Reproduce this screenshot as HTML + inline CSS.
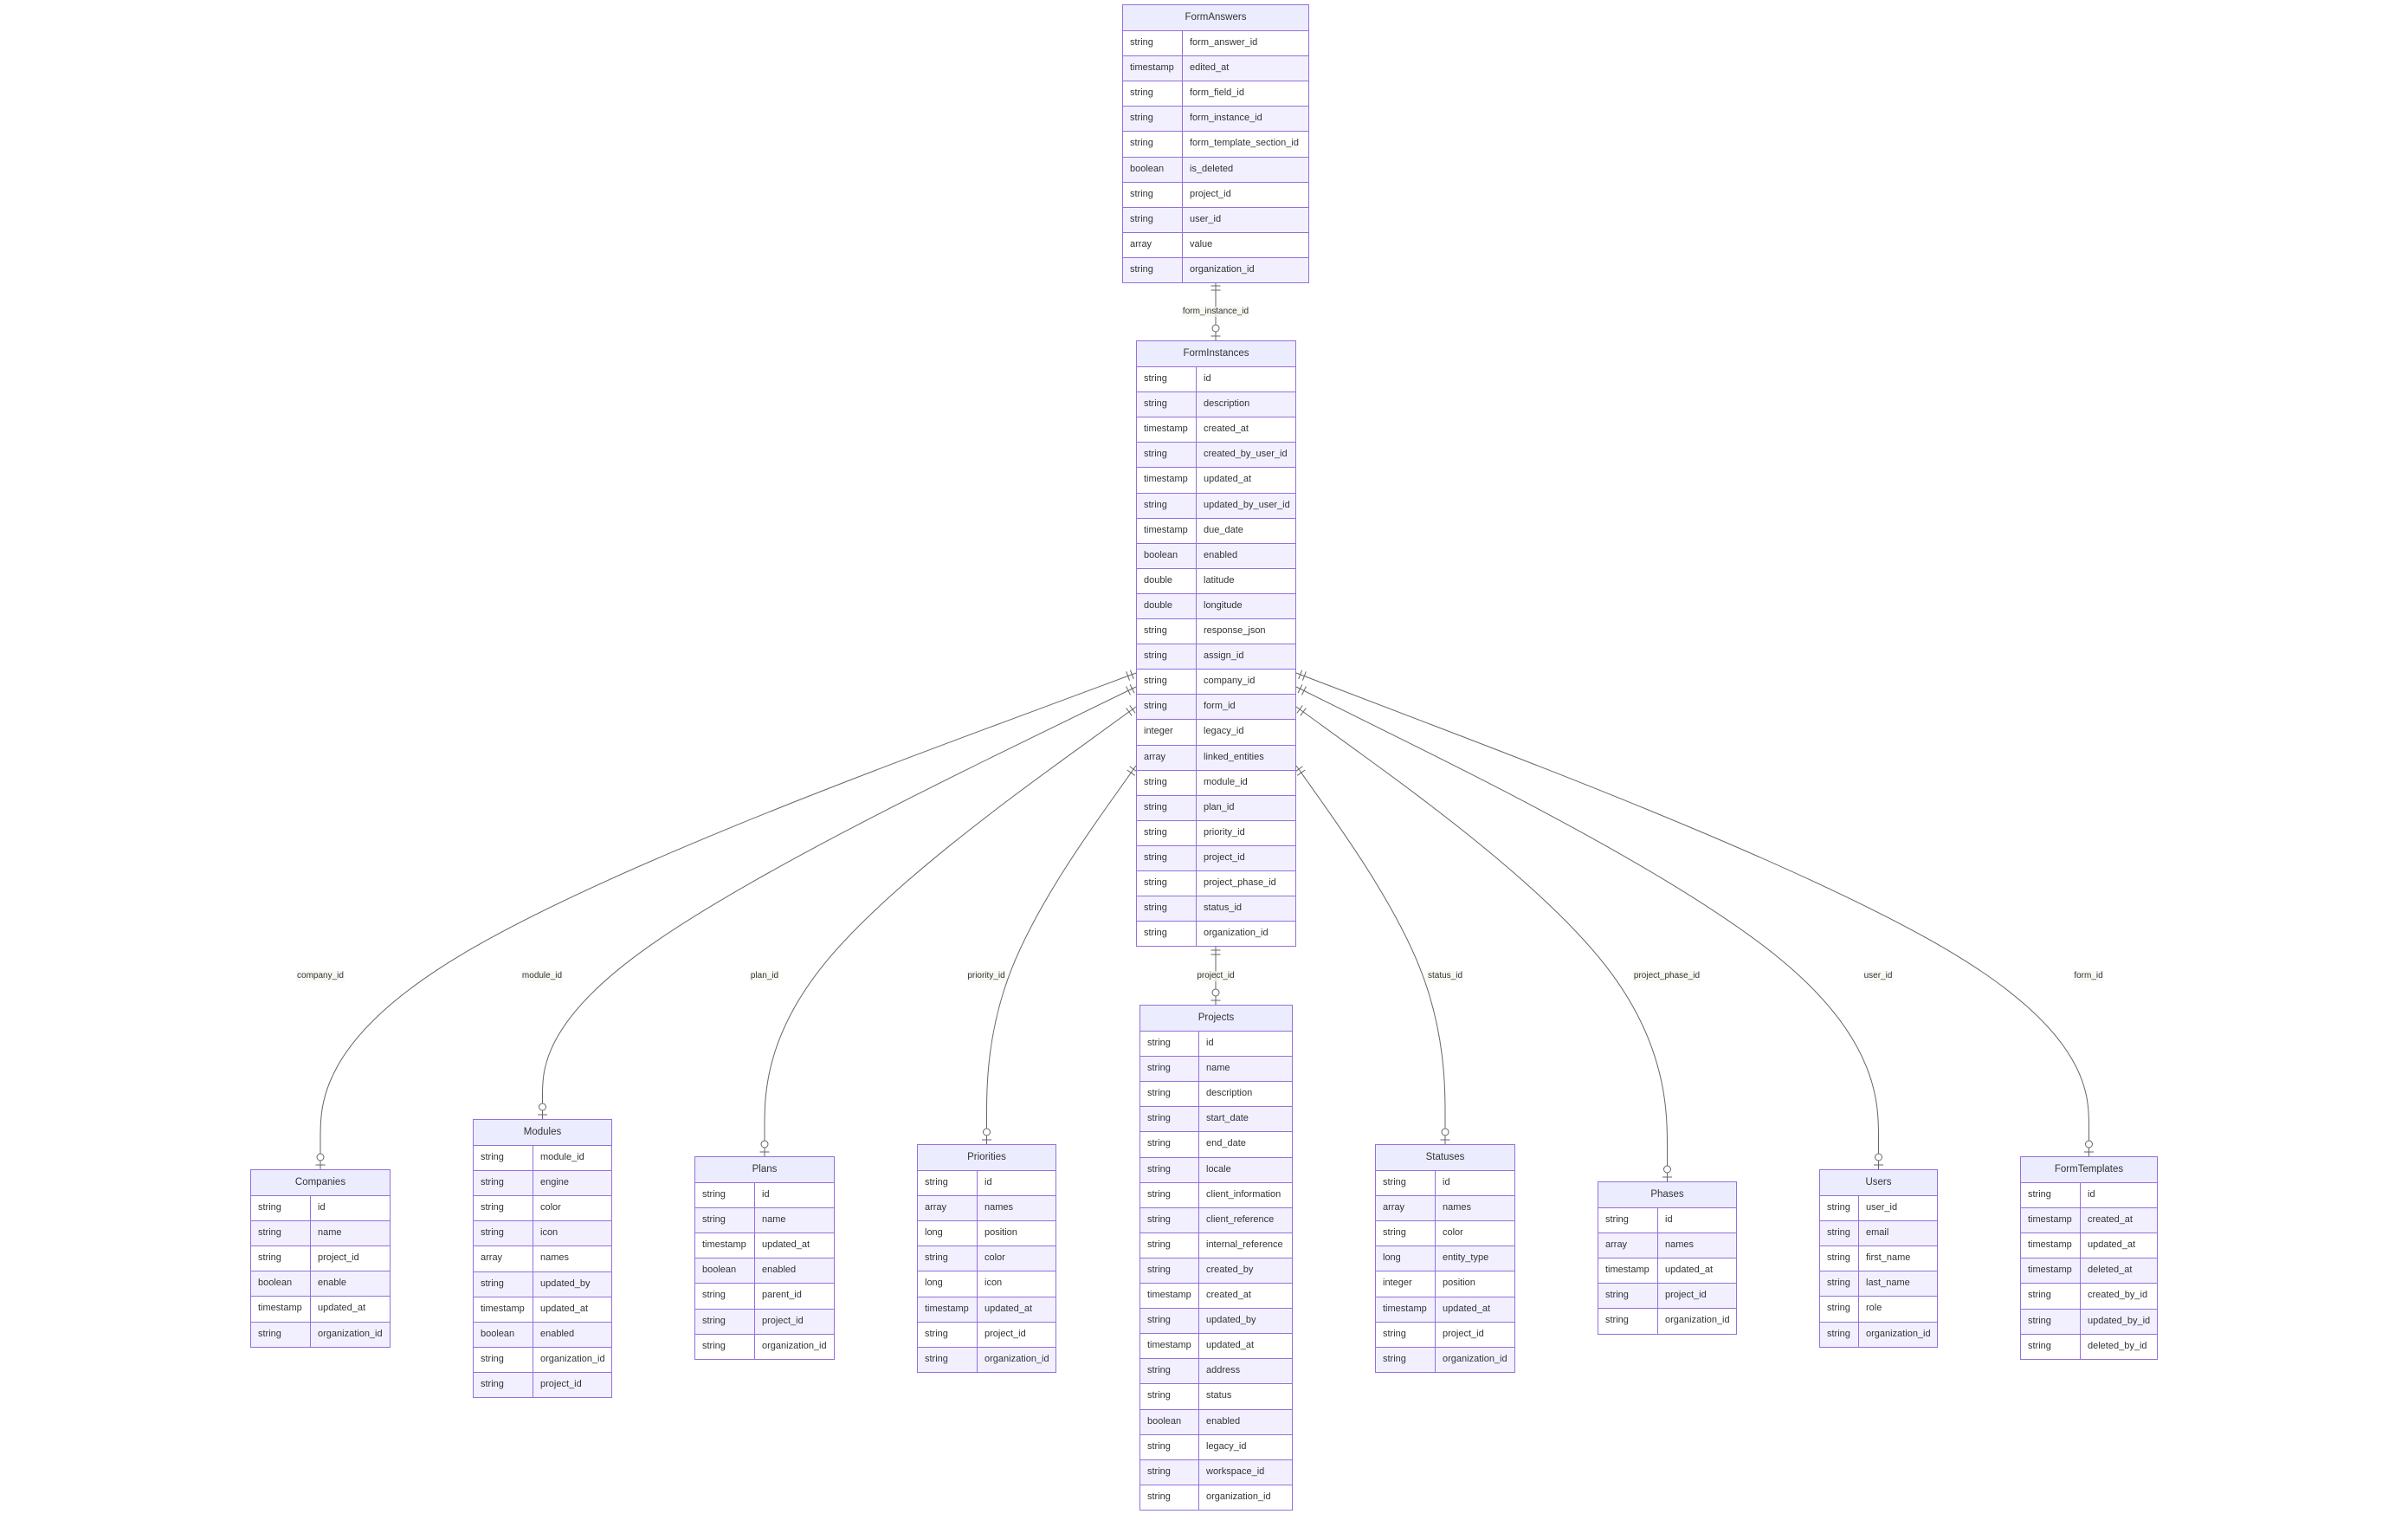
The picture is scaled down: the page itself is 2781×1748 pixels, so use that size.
<!DOCTYPE html>
<html><head><meta charset="utf-8"><style>
html,body{margin:0;padding:0;background:#fff;width:2781px;height:1748px;overflow:hidden;position:relative}
svg{position:absolute;left:0;top:0}
.t{position:absolute;border:1.5px solid #9370db;box-sizing:border-box;font:11px "Liberation Sans",sans-serif;color:#333;background:#fff}
.h{height:29.1px;line-height:28px;text-align:center;background:#ececff;box-sizing:border-box;font-size:11.5px}
.r{display:flex;height:29.1px;border-top:1.5px solid #9370db;box-sizing:border-box;line-height:27px;white-space:nowrap}
.r:nth-child(odd){background:#f2f0ff}
.r span:first-child{width:var(--c);flex:none;border-right:1.5px solid #9370db;padding-left:8px;box-sizing:border-box}
.r span:last-child{padding-left:8px}
.lb{position:absolute;font:10px "Liberation Sans",sans-serif;color:#333;background:rgba(244,247,238,0.7);transform:translate(-50%,-50%);padding:0 1px;line-height:12px}
</style></head><body>
<svg width="2781" height="1748" fill="none" stroke="#666" stroke-width="1">
<path d="M1404,325V393M1404,1092V1160"/>
<path d="M1312,777L1155,835.3C998,893.7 684,1010.3 527,1105.8C370,1201.3 370,1275.7 370,1312.8L370,1350"/>
<path d="M1312,793L1197.75,848.7C1083.5,904.3 855,1015.7 740.75,1098.8C626.5,1182 626.5,1237 626.5,1264.5L626.5,1292"/>
<path d="M1312,816L1240.5,867.8C1169,919.7 1026,1023.3 954.5,1109.8C883,1196.3 883,1265.7 883,1300.3L883,1335"/>
<path d="M1312,884L1283.25,924.5C1254.5,965 1197,1046 1168.25,1118.8C1139.5,1191.7 1139.5,1256.3 1139.5,1288.7L1139.5,1321"/>
<path d="M1497,884L1525.7,924.5C1554.3,965 1611.7,1046 1640.3,1118.8C1669,1191.7 1669,1256.3 1669,1288.7L1669,1321"/>
<path d="M1497,816L1568.4,867.8C1639.8,919.7 1782.7,1023.3 1854.1,1114.7C1925.5,1206 1925.5,1285 1925.5,1324.5L1925.5,1364"/>
<path d="M1497,793L1609.1,848.7C1721.2,904.3 1945.3,1015.7 2057.4,1108.5C2169.5,1201.3 2169.5,1275.7 2169.5,1312.8L2169.5,1350"/>
<path d="M1497,777L1649.6,835.3C1802.2,893.7 2107.3,1010.3 2259.9,1103.3C2412.5,1196.3 2412.5,1265.7 2412.5,1300.3L2412.5,1335"/>
<g>
<g transform="translate(1404,325) rotate(90)"><path d="M5,-5.5V5.5M10,-5.5V5.5"/></g>
<g transform="translate(1404,1092) rotate(90)"><path d="M5,-5.5V5.5M10,-5.5V5.5"/></g>
<g transform="translate(1312,777) rotate(159.6)"><path d="M5,-5.5V5.5M10,-5.5V5.5"/></g>
<g transform="translate(1312,793) rotate(154)"><path d="M5,-5.5V5.5M10,-5.5V5.5"/></g>
<g transform="translate(1312,816) rotate(144.1)"><path d="M5,-5.5V5.5M10,-5.5V5.5"/></g>
<g transform="translate(1312,884) rotate(125.4)"><path d="M5,-5.5V5.5M10,-5.5V5.5"/></g>
<g transform="translate(1497,884) rotate(54.7)"><path d="M5,-5.5V5.5M10,-5.5V5.5"/></g>
<g transform="translate(1497,816) rotate(36)"><path d="M5,-5.5V5.5M10,-5.5V5.5"/></g>
<g transform="translate(1497,793) rotate(26.4)"><path d="M5,-5.5V5.5M10,-5.5V5.5"/></g>
<g transform="translate(1497,777) rotate(20.9)"><path d="M5,-5.5V5.5M10,-5.5V5.5"/></g>
</g>
<g fill="#fff">
<g transform="translate(1404,393)"><path d="M-5.5,-5H5.5"/><circle cx="0" cy="-14" r="4"/></g>
<g transform="translate(1404,1160)"><path d="M-5.5,-5H5.5"/><circle cx="0" cy="-14" r="4"/></g>
<g transform="translate(370,1350)"><path d="M-5.5,-5H5.5"/><circle cx="0" cy="-14" r="4"/></g>
<g transform="translate(626.5,1292)"><path d="M-5.5,-5H5.5"/><circle cx="0" cy="-14" r="4"/></g>
<g transform="translate(883,1335)"><path d="M-5.5,-5H5.5"/><circle cx="0" cy="-14" r="4"/></g>
<g transform="translate(1139.5,1321)"><path d="M-5.5,-5H5.5"/><circle cx="0" cy="-14" r="4"/></g>
<g transform="translate(1669,1321)"><path d="M-5.5,-5H5.5"/><circle cx="0" cy="-14" r="4"/></g>
<g transform="translate(1925.5,1364)"><path d="M-5.5,-5H5.5"/><circle cx="0" cy="-14" r="4"/></g>
<g transform="translate(2169.5,1350)"><path d="M-5.5,-5H5.5"/><circle cx="0" cy="-14" r="4"/></g>
<g transform="translate(2412.5,1335)"><path d="M-5.5,-5H5.5"/><circle cx="0" cy="-14" r="4"/></g>
</g>
</svg>

<div class="lb" style="left:1404px;top:360px">form_instance_id</div>
<div class="lb" style="left:1404px;top:1127px">project_id</div>
<div class="lb" style="left:370px;top:1127px">company_id</div>
<div class="lb" style="left:626px;top:1127px">module_id</div>
<div class="lb" style="left:883px;top:1127px">plan_id</div>
<div class="lb" style="left:1139px;top:1127px">priority_id</div>
<div class="lb" style="left:1669px;top:1127px">status_id</div>
<div class="lb" style="left:1925px;top:1127px">project_phase_id</div>
<div class="lb" style="left:2169px;top:1127px">user_id</div>
<div class="lb" style="left:2412px;top:1127px">form_id</div>

<div class="t" style="left:1296px;top:5px;width:216px;--c:69px">
<div class="h">FormAnswers</div>
<div class="r"><span>string</span><span>form_answer_id</span></div>
<div class="r"><span>timestamp</span><span>edited_at</span></div>
<div class="r"><span>string</span><span>form_field_id</span></div>
<div class="r"><span>string</span><span>form_instance_id</span></div>
<div class="r"><span>string</span><span>form_template_section_id</span></div>
<div class="r"><span>boolean</span><span>is_deleted</span></div>
<div class="r"><span>string</span><span>project_id</span></div>
<div class="r"><span>string</span><span>user_id</span></div>
<div class="r"><span>array</span><span>value</span></div>
<div class="r"><span>string</span><span>organization_id</span></div>
</div>

<div class="t" style="left:1312px;top:393px;width:185px;--c:69px">
<div class="h">FormInstances</div>
<div class="r"><span>string</span><span>id</span></div>
<div class="r"><span>string</span><span>description</span></div>
<div class="r"><span>timestamp</span><span>created_at</span></div>
<div class="r"><span>string</span><span>created_by_user_id</span></div>
<div class="r"><span>timestamp</span><span>updated_at</span></div>
<div class="r"><span>string</span><span>updated_by_user_id</span></div>
<div class="r"><span>timestamp</span><span>due_date</span></div>
<div class="r"><span>boolean</span><span>enabled</span></div>
<div class="r"><span>double</span><span>latitude</span></div>
<div class="r"><span>double</span><span>longitude</span></div>
<div class="r"><span>string</span><span>response_json</span></div>
<div class="r"><span>string</span><span>assign_id</span></div>
<div class="r"><span>string</span><span>company_id</span></div>
<div class="r"><span>string</span><span>form_id</span></div>
<div class="r"><span>integer</span><span>legacy_id</span></div>
<div class="r"><span>array</span><span>linked_entities</span></div>
<div class="r"><span>string</span><span>module_id</span></div>
<div class="r"><span>string</span><span>plan_id</span></div>
<div class="r"><span>string</span><span>priority_id</span></div>
<div class="r"><span>string</span><span>project_id</span></div>
<div class="r"><span>string</span><span>project_phase_id</span></div>
<div class="r"><span>string</span><span>status_id</span></div>
<div class="r"><span>string</span><span>organization_id</span></div>
</div>

<div class="t" style="left:1316px;top:1160px;width:177px;--c:68px">
<div class="h">Projects</div>
<div class="r"><span>string</span><span>id</span></div>
<div class="r"><span>string</span><span>name</span></div>
<div class="r"><span>string</span><span>description</span></div>
<div class="r"><span>string</span><span>start_date</span></div>
<div class="r"><span>string</span><span>end_date</span></div>
<div class="r"><span>string</span><span>locale</span></div>
<div class="r"><span>string</span><span>client_information</span></div>
<div class="r"><span>string</span><span>client_reference</span></div>
<div class="r"><span>string</span><span>internal_reference</span></div>
<div class="r"><span>string</span><span>created_by</span></div>
<div class="r"><span>timestamp</span><span>created_at</span></div>
<div class="r"><span>string</span><span>updated_by</span></div>
<div class="r"><span>timestamp</span><span>updated_at</span></div>
<div class="r"><span>string</span><span>address</span></div>
<div class="r"><span>string</span><span>status</span></div>
<div class="r"><span>boolean</span><span>enabled</span></div>
<div class="r"><span>string</span><span>legacy_id</span></div>
<div class="r"><span>string</span><span>workspace_id</span></div>
<div class="r"><span>string</span><span>organization_id</span></div>
</div>

<div class="t" style="left:289px;top:1350px;width:162px;--c:69px">
<div class="h">Companies</div>
<div class="r"><span>string</span><span>id</span></div>
<div class="r"><span>string</span><span>name</span></div>
<div class="r"><span>string</span><span>project_id</span></div>
<div class="r"><span>boolean</span><span>enable</span></div>
<div class="r"><span>timestamp</span><span>updated_at</span></div>
<div class="r"><span>string</span><span>organization_id</span></div>
</div>

<div class="t" style="left:546px;top:1292px;width:161px;--c:69px">
<div class="h">Modules</div>
<div class="r"><span>string</span><span>module_id</span></div>
<div class="r"><span>string</span><span>engine</span></div>
<div class="r"><span>string</span><span>color</span></div>
<div class="r"><span>string</span><span>icon</span></div>
<div class="r"><span>array</span><span>names</span></div>
<div class="r"><span>string</span><span>updated_by</span></div>
<div class="r"><span>timestamp</span><span>updated_at</span></div>
<div class="r"><span>boolean</span><span>enabled</span></div>
<div class="r"><span>string</span><span>organization_id</span></div>
<div class="r"><span>string</span><span>project_id</span></div>
</div>

<div class="t" style="left:802px;top:1335px;width:162px;--c:69px">
<div class="h">Plans</div>
<div class="r"><span>string</span><span>id</span></div>
<div class="r"><span>string</span><span>name</span></div>
<div class="r"><span>timestamp</span><span>updated_at</span></div>
<div class="r"><span>boolean</span><span>enabled</span></div>
<div class="r"><span>string</span><span>parent_id</span></div>
<div class="r"><span>string</span><span>project_id</span></div>
<div class="r"><span>string</span><span>organization_id</span></div>
</div>

<div class="t" style="left:1059px;top:1321px;width:161px;--c:69px">
<div class="h">Priorities</div>
<div class="r"><span>string</span><span>id</span></div>
<div class="r"><span>array</span><span>names</span></div>
<div class="r"><span>long</span><span>position</span></div>
<div class="r"><span>string</span><span>color</span></div>
<div class="r"><span>long</span><span>icon</span></div>
<div class="r"><span>timestamp</span><span>updated_at</span></div>
<div class="r"><span>string</span><span>project_id</span></div>
<div class="r"><span>string</span><span>organization_id</span></div>
</div>

<div class="t" style="left:1588px;top:1321px;width:162px;--c:69px">
<div class="h">Statuses</div>
<div class="r"><span>string</span><span>id</span></div>
<div class="r"><span>array</span><span>names</span></div>
<div class="r"><span>string</span><span>color</span></div>
<div class="r"><span>long</span><span>entity_type</span></div>
<div class="r"><span>integer</span><span>position</span></div>
<div class="r"><span>timestamp</span><span>updated_at</span></div>
<div class="r"><span>string</span><span>project_id</span></div>
<div class="r"><span>string</span><span>organization_id</span></div>
</div>

<div class="t" style="left:1845px;top:1364px;width:161px;--c:69px">
<div class="h">Phases</div>
<div class="r"><span>string</span><span>id</span></div>
<div class="r"><span>array</span><span>names</span></div>
<div class="r"><span>timestamp</span><span>updated_at</span></div>
<div class="r"><span>string</span><span>project_id</span></div>
<div class="r"><span>string</span><span>organization_id</span></div>
</div>

<div class="t" style="left:2101px;top:1350px;width:137px;--c:45px">
<div class="h">Users</div>
<div class="r"><span>string</span><span>user_id</span></div>
<div class="r"><span>string</span><span>email</span></div>
<div class="r"><span>string</span><span>first_name</span></div>
<div class="r"><span>string</span><span>last_name</span></div>
<div class="r"><span>string</span><span>role</span></div>
<div class="r"><span>string</span><span>organization_id</span></div>
</div>

<div class="t" style="left:2333px;top:1335px;width:159px;--c:69px">
<div class="h">FormTemplates</div>
<div class="r"><span>string</span><span>id</span></div>
<div class="r"><span>timestamp</span><span>created_at</span></div>
<div class="r"><span>timestamp</span><span>updated_at</span></div>
<div class="r"><span>timestamp</span><span>deleted_at</span></div>
<div class="r"><span>string</span><span>created_by_id</span></div>
<div class="r"><span>string</span><span>updated_by_id</span></div>
<div class="r"><span>string</span><span>deleted_by_id</span></div>
</div>
</body></html>
